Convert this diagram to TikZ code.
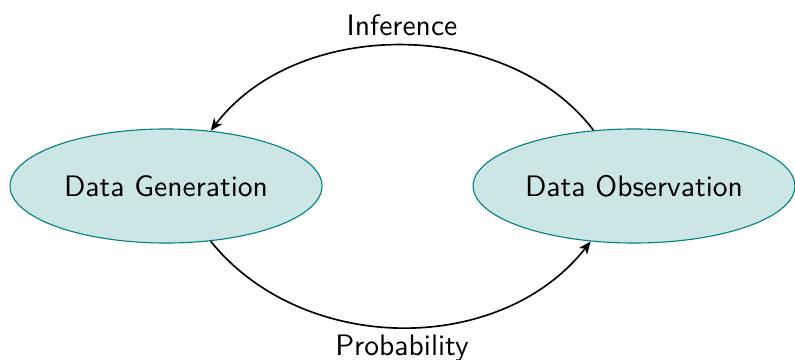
\documentclass[tikz,border=0pt]{standalone}
\usetikzlibrary{shapes.geometric,arrows.meta}
\begin{document}
\begin{tikzpicture}[x=0.3648pt,y=-0.3648pt,
  every node/.style={font=\sffamily\fontsize{10.8pt}{13pt}\selectfont},
  stage/.style={ellipse,draw=teal,fill=teal!20,inner sep=0pt,minimum height=41.6pt},
  flow/.style={-{Stealth[length=4.6pt,width=3.8pt,inset=1.4pt]},line width=0.6pt}]
\useasboundingbox (0,0) rectangle (795,360);
\node[stage,minimum width=113.8pt] (gen) at (166,186) {Data Generation};
\node[stage,minimum width=117.4pt] (obs) at (634,186) {Data Observation};
\node (inf) at (402,25) {Inference};
\node (prob) at (402,348) {Probability};
\draw[flow] (obs.126) .. controls (508,18) and (298,16) .. (gen.51);
\draw[flow] (gen.-51) .. controls (302,355) and (500,357) .. (obs.-128);
\end{tikzpicture}
\end{document}
